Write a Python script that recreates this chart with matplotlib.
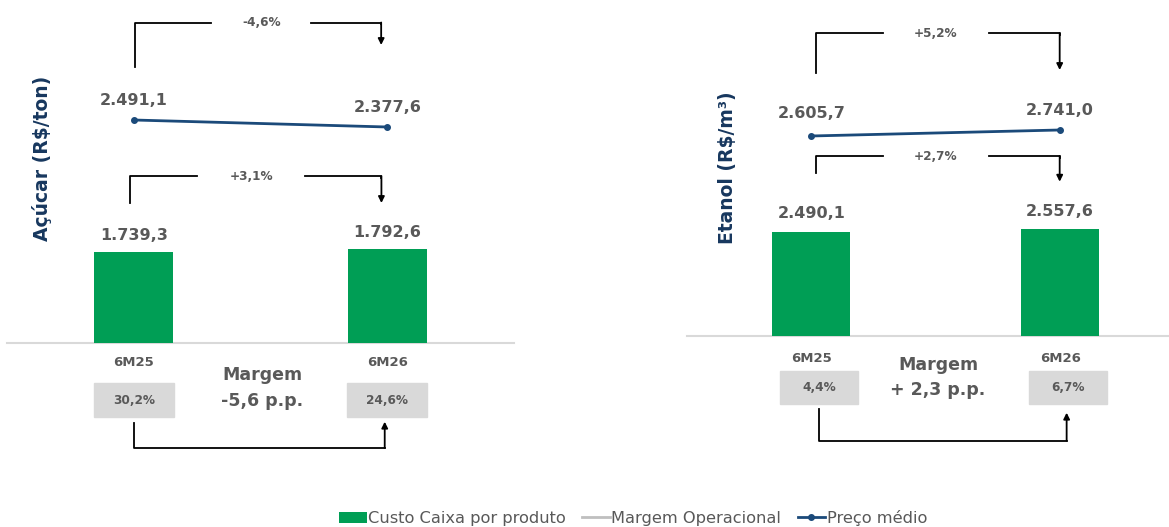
import matplotlib
matplotlib.use('Agg')
import matplotlib.pyplot as plt
import matplotlib.transforms as mtransforms
from matplotlib.lines import Line2D
from matplotlib.patches import Rectangle

plt.rcParams['font.family'] = ['DejaVu Sans']

# dados
periodos = ['6M25', '6M26']
acucar_custo = [1739.3, 1792.6]
acucar_preco = [2491.1, 2377.6]
acucar_margem = ['30,2%', '24,6%']
acucar_var = ['-4,6%', '+3,1%', '-5,6 p.p.']
etanol_custo = [2490.1, 2557.6]
etanol_preco = [2605.7, 2741.0]
etanol_margem = ['4,4%', '6,7%']
etanol_var = ['+5,2%', '+2,7%', '+ 2,3 p.p.']
legenda = ['Custo Caixa por produto', 'Margem Operacional', 'Preço médio']

GREEN = '#009E55'
NAVY = '#1B4A7A'
TITLE = '#17375E'
TXT = '#595959'
BOX = '#D9D9D9'
W, H = 1169, 527

fig = plt.figure(figsize=(W / 100, H / 100), dpi=100)


def fmt(v):
    return f'{v:,.1f}'.replace(',', 'X').replace('.', ',').replace('X', '.')


def panel(left, right, base, custo, preco, margens, var, bar_top, line_lim, ylabel, lay):
    ax = fig.add_axes([left / W, (H - base) / H, (right - left) / W, base / H])
    x = [0, 1]
    bars = ax.bar(x, custo, width=0.313, color=GREEN, zorder=2)
    ax.set_xlim(-0.5, lay['xmax'])
    ax.set_ylim(0, bar_top)
    ax.axis('off')
    ax.axhline(0, color=BOX, lw=1.5, clip_on=False, zorder=1)
    ax2 = ax.twinx()
    ax2.set_ylim(*line_lim)
    ax2.axis('off')
    ln, = ax2.plot(x, preco, color=NAVY, lw=2, marker='o', ms=4)

    for xi, v, off in zip(x, custo, lay['bar_off']):
        ax.annotate(fmt(v), (xi, v), xytext=(0, off), textcoords='offset pixels',
                    ha='center', va='center', fontsize=11.5, fontweight='bold', color=TXT)
    for xi, v, off in zip(x, preco, lay['line_off']):
        ax2.annotate(fmt(v), (xi, v), xytext=(0, off), textcoords='offset pixels',
                     ha='center', va='center', fontsize=11.5, fontweight='bold', color=TXT)

    tr = mtransforms.blended_transform_factory(ax.transData, ax.transAxes)

    def fy(py):
        return (base - py) / base

    # colchetes de variação
    for b, txt in zip(lay['brackets'], var[:2]):
        x0, x1, y0, yb, ytip, gl, gr, xt = b
        ax.plot([x0, x0, gl], [fy(y0), fy(yb), fy(yb)], color='black', lw=1.3,
                transform=tr, clip_on=False)
        ax.plot([gr, x1, x1], [fy(yb), fy(yb), fy(yb) - 0.005], color='black', lw=1.3,
                transform=tr, clip_on=False)
        ax.annotate('', xy=(x1, fy(ytip)), xytext=(x1, fy(yb)), xycoords=tr, textcoords=tr,
                    arrowprops=dict(arrowstyle='-|>', color='black', lw=1.3,
                                    mutation_scale=9, shrinkA=0, shrinkB=0))
        ax.text(xt, fy(yb), txt, transform=tr, ha='center', va='center',
                fontsize=8.7, fontweight='bold', color=TXT)

    # margem
    for xi, lab, m in zip(x, periodos, margens):
        ax.text(xi + lay['per_dx'][xi], fy(lay['per_y']), lab, transform=tr, ha='center',
                va='center', fontsize=9.5, fontweight='bold', color=TXT)
        bx = xi + lay['box_dx']
        ax.add_patch(Rectangle((bx - 0.157, fy(lay['box_y'][1])), 0.314,
                               fy(lay['box_y'][0]) - fy(lay['box_y'][1]),
                               transform=tr, color=BOX, clip_on=False, zorder=1))
        ax.text(bx, fy(sum(lay['box_y']) / 2), m, transform=tr, ha='center', va='center',
                fontsize=8.7, fontweight='bold', color=TXT)
    ax.text(lay['marg_x'], fy(lay['marg_y'][0]), 'Margem', transform=tr, ha='center',
            va='center', fontsize=12.5, fontweight='bold', color=TXT)
    ax.text(lay['marg_x'], fy(lay['marg_y'][1]), var[2], transform=tr, ha='center',
            va='center', fontsize=12.5, fontweight='bold', color=TXT)

    x0, x1, y0, yb, ytip = lay['bottom']
    ax.plot([x0, x0, x1], [fy(y0), fy(yb), fy(yb)], color='black', lw=1.3,
            transform=tr, clip_on=False)
    ax.annotate('', xy=(x1, fy(ytip)), xytext=(x1, fy(yb)), xycoords=tr, textcoords=tr,
                arrowprops=dict(arrowstyle='-|>', color='black', lw=1.3,
                                mutation_scale=9, shrinkA=0, shrinkB=0))

    fig.text(lay['ylab'][0] / W, 1 - lay['ylab'][1] / H, ylabel, rotation=90,
             ha='center', va='center', fontsize=13.5, fontweight='bold', color=TITLE)
    return bars, ln


bars, ln = panel(7, 514, 343, acucar_custo, acucar_preco, acucar_margem, acucar_var,
                 6530, (-1125, 4437), 'Açúcar (R$/ton)',
                 dict(xmax=1.5, bar_off=(16, 16), line_off=(20, 20),
                      brackets=[(0.003, 0.976, 67, 22.5, 45, 0.303, 0.698, 0.505),
                                (-0.014, 0.977, 203, 176, 203, 0.251, 0.677, 0.465)],
                      per_dx=(0, 0), per_y=362, box_dx=0, box_y=(382.7, 417.3),
                      marg_x=0.508, marg_y=(375, 401),
                      bottom=(0.0, 0.99, 422.7, 448, 421.7), ylab=(42, 158)))

panel(687, 1169, 336, etanol_custo, etanol_preco, etanol_margem, etanol_var,
      8022, (-1904, 5672), 'Etanol (R$/m³)',
      dict(xmax=1.44, bar_off=(18, 17), line_off=(22, 19),
           brackets=[(0.019, 1.0, 72.7, 33.3, 70, 0.289, 0.715, 0.502),
                     (0.019, 1.0, 172.7, 156, 181.7, 0.289, 0.715, 0.502)],
           per_dx=(0.002, 0.003), per_y=358, box_dx=0.033, box_y=(370.7, 403.7),
           marg_x=0.51, marg_y=(365, 390),
           bottom=(0.031, 1.028, 409, 440.7, 412.7), ylab=(727, 168)))

gray = Line2D([], [], color='#BFBFBF', lw=2)
fig.legend(handles=[bars, gray, ln], labels=legenda, loc='center',
           bbox_to_anchor=(633 / W, 1 - 518 / H), ncol=3, frameon=False, fontsize=11.7,
           handlelength=1.7, handletextpad=0.1, columnspacing=1.0, labelcolor=TXT,
           borderpad=0)

fig.savefig('out.png', dpi=100)
